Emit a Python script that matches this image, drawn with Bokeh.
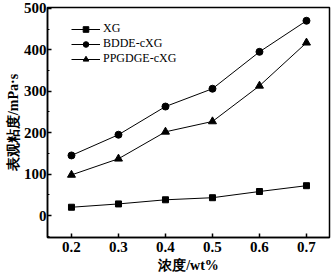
from bokeh.plotting import figure
from bokeh.models import Range1d, Legend, LegendItem, FixedTicker
from bokeh.embed import file_html
from bokeh.resources import INLINE

concentration = [0.2, 0.3, 0.4, 0.5, 0.6, 0.7]
xg = [20, 28, 38, 43, 58, 72]
bdde_cxg = [145, 195, 263, 306, 395, 470]
ppgdge_cxg = [98, 137, 202, 227, 313, 417]
x_ticks = [0.2, 0.3, 0.4, 0.5, 0.6, 0.7]
y_ticks = [0, 100, 200, 300, 400, 500]

SERIF = "serif"
MIXED = "serif"

p = figure(width=331, height=280, output_backend="svg", toolbar_location=None,
           x_range=Range1d(0.149, 0.749), y_range=Range1d(-53, 502),
           min_border_left=47, min_border_right=2, min_border_top=7, min_border_bottom=43)
p.xgrid.visible = False
p.ygrid.visible = False
p.outline_line_color = "black"
p.outline_line_width = 1.5
p.background_fill_color = "white"
p.border_fill_color = "white"

for ax in (p.xaxis[0], p.yaxis[0]):
    ax.axis_line_width = 1.5
    ax.major_tick_in = 4
    ax.major_tick_out = 0
    ax.minor_tick_in = 2
    ax.minor_tick_out = 0
    ax.major_tick_line_width = 1.5
    ax.major_label_text_font = SERIF
    ax.major_label_text_font_style = "bold"
    ax.major_label_text_font_size = "15px"
    ax.major_label_text_color = "black"
    ax.axis_label_text_font = MIXED
    ax.axis_label_text_font_style = "bold"
    ax.axis_label_text_font_size = "14px"
    ax.axis_label_text_color = "black"

p.xaxis.ticker = FixedTicker(ticks=x_ticks)
p.yaxis.ticker = FixedTicker(ticks=y_ticks, minor_ticks=[-50, 50, 150, 250, 350, 450])
p.xaxis.major_label_standoff = 4
p.yaxis.major_label_standoff = 1
p.xaxis.axis_label = "浓度/wt%"
p.yaxis.axis_label = "表观粘度/mPa·s"
p.xaxis.axis_label_standoff = 3
p.yaxis.axis_label_standoff = 0

l1 = p.line(concentration, xg, line_color="black", line_width=1)
m1 = p.scatter(concentration, xg, marker="square", size=6, color="black")
l2 = p.line(concentration, bdde_cxg, line_color="black", line_width=1)
m2 = p.scatter(concentration, bdde_cxg, marker="circle", size=7, color="black")
l3 = p.line(concentration, ppgdge_cxg, line_color="black", line_width=1)
m3 = p.scatter(concentration, ppgdge_cxg, marker="triangle", size=8, color="black")

legend = Legend(items=[
    LegendItem(label="XG", renderers=[l1, m1]),
    LegendItem(label="BDDE-cXG", renderers=[l2, m2]),
    LegendItem(label="PPGDGE-cXG", renderers=[l3, m3]),
], location=(24, 171))
legend.border_line_color = None
legend.background_fill_alpha = 0
legend.padding = 0
legend.margin = 0
legend.spacing = 0
legend.glyph_width = 29
legend.glyph_height = 14
legend.label_height = 14
legend.label_standoff = 3
legend.label_text_font = SERIF
legend.label_text_font_size = "12px"
legend.label_text_color = "black"
p.add_layout(legend)

open("out.html", "w").write(file_html(p, INLINE))
